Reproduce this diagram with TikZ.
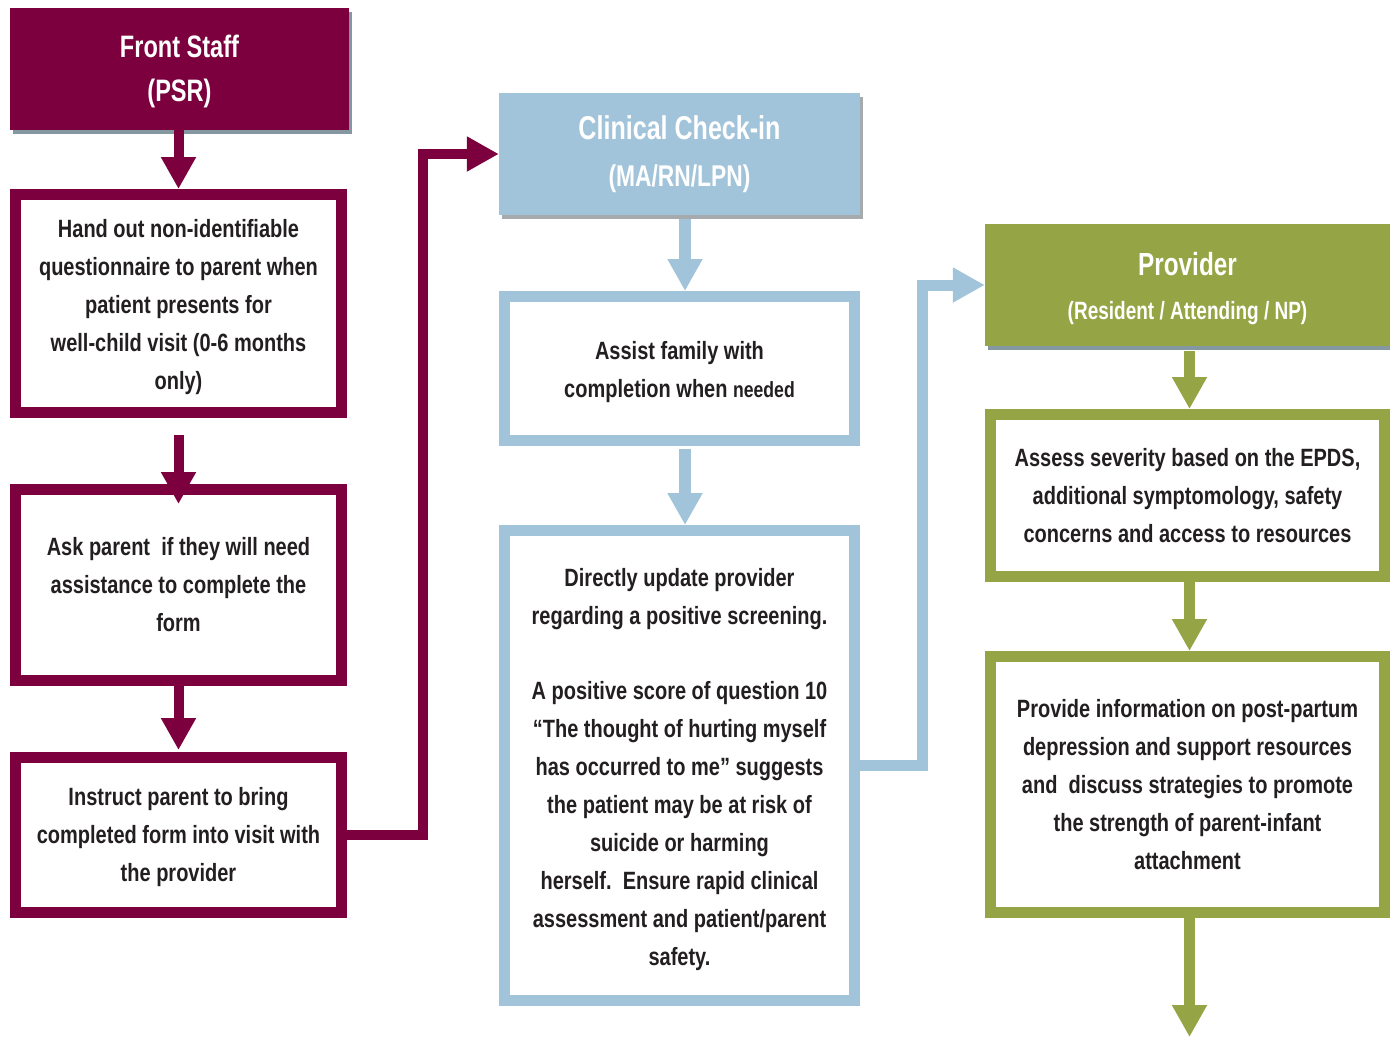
\documentclass[tikz,border=0pt]{standalone}
\usepackage{fontspec}
\setmainfont{Liberation Sans}[FakeStretch=0.8]
\newfontfamily\hdrfont{Liberation Sans}[FakeStretch=0.76]
\usetikzlibrary{arrows.meta,calc,shadows}
\definecolor{mrn}{HTML}{7C003E}
\definecolor{blu}{HTML}{A2C4DA}
\definecolor{grn}{HTML}{95A545}
\definecolor{txt}{HTML}{231F20}
\definecolor{shdA}{HTML}{8598A2}
\definecolor{shdB}{HTML}{A7AAAD}
\newcommand\lowstrut[1]{\rule{0pt}{#1}}
\begin{document}
\begin{tikzpicture}[x=1pt,y=-1pt,
  hdr/.style={rectangle, inner sep=0pt, text=white, align=center,
    minimum height=122pt},
  box/.style={rectangle, draw, line width=11pt, fill=white, inner sep=0pt,
    align=center, text=txt, font=\bfseries\fontsize{25}{38}\selectfont},
  arr/.style={line width=11pt, -{Triangle[width=33pt,length=32pt]}},
  conn/.style={line width=10pt, line join=miter, -{Triangle[width=33pt,length=32pt]}}]
\useasboundingbox (0,0) rectangle (1390,1037);

% ---------- Front staff column ----------
\node[hdr, fill=mrn, minimum width=339pt,
  drop shadow={shadow xshift=3pt, shadow yshift=-4pt, fill=shdA, opacity=1},
  font=\hdrfont\bfseries\fontsize{31}{44}\selectfont] (h1) at (179.5,69) {\lowstrut{27pt}Front Staff\\(PSR)};
\node[box, draw=mrn, minimum width=326pt, minimum height=218pt] (b1) at (178.5,303.5)
  {\lowstrut{25pt}Hand out non-identifiable\\questionnaire to parent when\\patient presents for\\well-child visit (0-6 months\\only)};
\node[box, draw=mrn, minimum width=326pt, minimum height=191pt] (b2) at (178.5,585)
  {Ask parent\ \ if they will need\\assistance to complete the\\form};
\node[box, draw=mrn, minimum width=326pt, minimum height=155pt] (b3) at (178.5,835)
  {\lowstrut{22.5pt}Instruct parent to bring\\completed form into visit with\\the provider};

\draw[arr, mrn, line width=10pt] (b1.north |- h1.south) -- (b1.north);
\draw[arr, mrn, line width=10pt] ($(b1.south)+(0,17)$) -- ($(b2.north)+(0,20)$);
\draw[arr, mrn, line width=10pt] (b2.south) -- ($(b3.north)+(0,-2)$);

% ---------- Clinical check-in column ----------
\node[hdr, fill=blu, minimum width=361pt,
  drop shadow={shadow xshift=3pt, shadow yshift=-4pt, fill=shdB, opacity=1},
  font=\hdrfont\bfseries\fontsize{30}{47}\selectfont] (h2) at (679.5,154)
  {{\fontsize{33}{47}\selectfont Clinical Check-in}\\(MA/RN/LPN)};
\node[box, draw=blu, minimum width=350pt, minimum height=144pt] (c1) at (679.5,368.5)
  {\lowstrut{25pt}Assist family with\\completion when {\fontsize{22}{38}\selectfont needed}};
\node[box, draw=blu, minimum width=350pt, minimum height=470pt] (c2) at (679.5,765.5)
  {\lowstrut{25.5pt}Directly update provider\\regarding a positive screening.\\[37pt]A positive score of question 10\\“The thought of hurting myself\\has occurred to me” suggests\\the patient may be at risk of\\suicide or harming\\herself.\ \ Ensure rapid clinical\\assessment and patient/parent\\safety.};

\draw[conn, mrn] (b3.east) -- ++(76,0) |- (h2.west);
\draw[arr, blu, line width=12pt] ($(h2.south)+(5.5,4)$) -- ($(c1.north)+(5.5,0)$);
\draw[arr, blu, line width=12pt] ($(c1.south)+(5.5,3)$) -- ($(c2.north)+(5.5,0)$);

% ---------- Provider column ----------
\node[hdr, fill=grn, minimum width=405pt,
  drop shadow={shadow xshift=3pt, shadow yshift=-4pt, fill=shdA, opacity=1},
  font=\hdrfont\bfseries\fontsize{25}{44}\selectfont] (h3) at (1187.5,285)
  {\lowstrut{30pt}{\fontsize{32}{44}\selectfont Provider}\\(Resident / Attending / NP)};
\node[box, draw=grn, minimum width=394pt, minimum height=162pt] (g1) at (1187.5,495.5)
  {Assess severity based on the EPDS,\\additional symptomology, safety\\concerns and access to resources};
\node[box, draw=grn, minimum width=394pt, minimum height=256pt] (g2) at (1187.5,784.5)
  {Provide information on post-partum\\depression and support resources\\and\ \ discuss strategies to promote\\the strength of parent-infant\\attachment};
\coordinate (gend) at (1189.5,1037);

\draw[conn, blu, line width=11pt] (c2.east) -- ++(62,0) |- (h3.west);
\draw[arr, grn] ($(h3.south)+(2,5)$) -- ($(g1.north)+(2,0)$);
\draw[arr, grn] ($(g1.south)+(2,0)$) -- ($(g2.north)+(2,0)$);
\draw[arr, grn] ($(g2.south)+(2,0)$) -- (gend);
\end{tikzpicture}
\end{document}
